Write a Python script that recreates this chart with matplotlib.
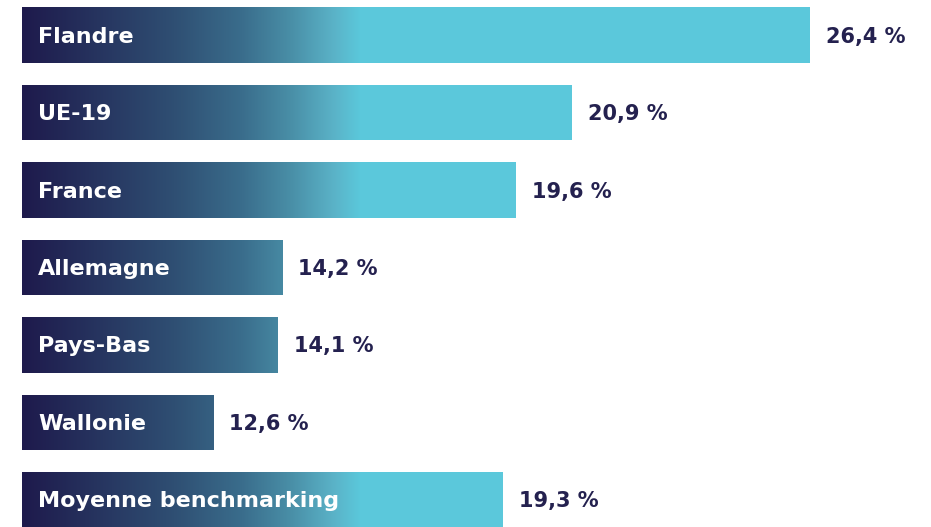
import matplotlib
matplotlib.use("Agg")
import matplotlib.pyplot as plt
import numpy as np
from matplotlib.colors import LinearSegmentedColormap

# data
categories = ["Flandre", "UE-19", "France", "Allemagne", "Pays-Bas", "Wallonie",
              "Moyenne benchmarking"]
values = [26.4, 20.9, 19.6, 14.2, 14.1, 12.6, 19.3]
value_labels = ["26,4 %", "20,9 %", "19,6 %", "14,2 %", "14,1 %", "12,6 %", "19,3 %"]

navy = "#24214f"
cyan = "#5bc8db"
x_min, x_max = 7.67, 29.2
base = 8.18      # bars start here (axis doesn't begin at 0 in the original)
grad_end = 16.0  # gradient reaches cyan here

cmap = LinearSegmentedColormap.from_list(
    "bar_grad",
    [(0.0, "#1e1a4c"), (0.45, "#2f4f73"), (0.65, "#3a6d8c"),
     (0.8, "#4a90a8"), (0.92, "#5ab2c7"), (1.0, cyan)])

fig = plt.figure(figsize=(9.31, 5.27), dpi=100)
ax = fig.add_axes([0, 0, 1, 1])
ax.set_xlim(x_min, x_max)
ax.set_ylim(6.35, -0.452)
ax.axis("off")

y = np.arange(len(categories))
widths = [v - base for v in values]
bars = ax.barh(y, widths, height=0.72, left=base, color="none", edgecolor="none")

grad = np.linspace(0, 1, 512).reshape(1, -1)
for bar in bars:
    im = ax.imshow(grad, cmap=cmap, aspect="auto", extent=(base, grad_end, 7, -1),
                   zorder=1, interpolation="bilinear")
    im.set_clip_path(bar)
    right = bar.get_x() + bar.get_width()
    if right > grad_end:
        ax.barh(bar.get_y() + bar.get_height() / 2, right - grad_end,
                left=grad_end, height=bar.get_height(), color=cyan,
                edgecolor="none", zorder=1)

ax.set_xlim(x_min, x_max)
ax.set_ylim(6.35, -0.452)

for i, (cat, v, lab) in enumerate(zip(categories, values, value_labels)):
    ax.text(base + 0.37, i + 0.02, cat, color="white", fontsize=16,
            fontweight="bold", va="center", ha="left", zorder=3)
    ax.text(v + 0.37, i + 0.02, lab, color=navy, fontsize=15,
            fontweight="bold", va="center", ha="left", zorder=3)

fig.savefig("out.png", dpi=100)
